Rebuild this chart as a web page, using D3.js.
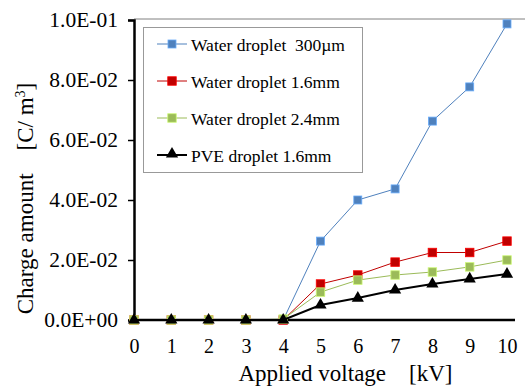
<!DOCTYPE html>
<html>
<head>
<meta charset="utf-8">
<script src="https://cdn.jsdelivr.net/npm/d3@7"></script>
</head>
<body style="margin:0; background:#fff">
<svg width="525" height="387"></svg>
<script>
// Data
const voltages = [0, 1, 2, 3, 4, 5, 6, 7, 8, 9, 10];
const water300um = [0, 0, 0, 0, 0, 0.0263, 0.0400, 0.0437, 0.0663, 0.0777, 0.0987];
const water16mm = [0, 0, 0, 0, 0, 0.0120, 0.0150, 0.0193, 0.0225, 0.0225, 0.0263];
const water24mm = [0, 0, 0, 0, 0.0003, 0.0093, 0.0133, 0.0150, 0.0160, 0.0177, 0.0200];
const pve16mm = [0, 0, 0, 0, 0, 0.0050, 0.0073, 0.0100, 0.0120, 0.0137, 0.0153];
const yTicks = [0, 0.02, 0.04, 0.06, 0.08, 0.10];
const yTickLabels = ["0.0E+00", "2.0E-02", "4.0E-02", "6.0E-02", "8.0E-02", "1.0E-01"];

const FONT = "Liberation Serif";

const series = [
    { name: "Water droplet\u00a0 300\u00b5m", values: water300um, color: "#4F81BD", marker: "square", size: 8, width: 1 },
    { name: "Water droplet 1.6mm", values: water16mm, color: "#C00000", marker: "square", size: 8.5, width: 1 },
    { name: "Water droplet 2.4mm", values: water24mm, color: "#9BBB59", marker: "square", size: 8.5, width: 1 },
    { name: "PVE droplet 1.6mm", values: pve16mm, color: "#000000", marker: "triangle", size: 12, width: 2 }
];

const svg = d3.select("svg");
const margin = { top: 20, right: 18, bottom: 67, left: 134 };
const width = 525, height = 387;

const x = d3.scaleLinear().domain([0, 10]).range([margin.left, width - margin.right]);
const y = d3.scaleLinear().domain([0, 0.1]).range([height - margin.bottom, margin.top]);

// top border line of plot area
svg.append("line")
    .attr("x1", margin.left).attr("x2", width)
    .attr("y1", y(0.1) - 1).attr("y2", y(0.1) - 1)
    .attr("stroke", "#808080").attr("stroke-width", 1);

// Y axis
const yAxis = svg.append("g")
    .attr("transform", `translate(${margin.left},0)`)
    .call(d3.axisLeft(y).tickValues(yTicks).tickSize(6).tickPadding(10)
        .tickFormat((d, i) => yTickLabels[i]));
yAxis.attr("font-family", FONT).attr("font-size", 21.5);
yAxis.select(".domain").attr("stroke", "#000").attr("stroke-width", 2.5);
yAxis.selectAll(".tick line").attr("stroke", "#000").attr("stroke-width", 1.5);
yAxis.selectAll("text").attr("fill", "#000").attr("font-family", FONT).attr("dy", "0.3em");

// X axis
const xAxis = svg.append("g")
    .attr("transform", `translate(0,${y(0)})`)
    .call(d3.axisBottom(x).tickValues(voltages).tickSize(0).tickPadding(19).tickFormat(d3.format("d")));
xAxis.attr("font-family", FONT).attr("font-size", 20);
xAxis.select(".domain").remove();
xAxis.selectAll("text").attr("fill", "#000").attr("font-family", FONT);
svg.append("line")
    .attr("x1", margin.left).attr("x2", width - 10)
    .attr("y1", y(0)).attr("y2", y(0))
    .attr("stroke", "#000").attr("stroke-width", 2.5);

const line = d3.line().x((d, i) => x(voltages[i])).y(d => y(d));
const triangle = d3.symbol().type(d3.symbolTriangle);

function drawMarker(g, s, cx, cy) {
    if (s.marker === "square") {
        g.append("rect")
            .attr("x", cx - s.size / 2).attr("y", cy - s.size / 2)
            .attr("width", s.size).attr("height", s.size)
            .attr("fill", s.color)
            .attr("stroke", d3.color(s.color).brighter(0.8)).attr("stroke-width", 0.8);
    } else {
        g.append("path")
            .attr("d", triangle.size(s.size * s.size * 0.45)())
            .attr("transform", `translate(${cx},${cy})`)
            .attr("fill", s.color);
    }
}

// draw series, blue on bottom, black last
series.forEach(s => {
    const g = svg.append("g");
    g.append("path")
        .datum(s.values)
        .attr("d", line)
        .attr("fill", "none")
        .attr("stroke", s.color)
        .attr("stroke-width", s.width);
    s.values.forEach((v, i) => drawMarker(g, s, x(voltages[i]), y(v)));
});

// Legend
const legend = svg.append("g");
legend.append("rect")
    .attr("x", 143.5).attr("y", 27.5).attr("width", 219).attr("height", 145)
    .attr("fill", "#fff").attr("stroke", "#999").attr("stroke-width", 1);
series.forEach((s, i) => {
    const ly = 44 + i * 37;
    legend.append("line")
        .attr("x1", 157).attr("x2", 187).attr("y1", ly).attr("y2", ly)
        .attr("stroke", s.color).attr("stroke-width", s.width);
    drawMarker(legend, s, 172, s.marker === "triangle" ? ly - 1 : ly);
    legend.append("text")
        .attr("x", 191).attr("y", ly + 7)
        .attr("font-family", FONT)
        .attr("font-size", 17.5)
        .text(s.name);
});

// Axis titles
svg.append("text")
    .attr("x", 345.5).attr("y", 381)
    .attr("text-anchor", "middle")
    .attr("font-family", FONT)
    .attr("font-size", 23)
    .text("Applied voltage \u00a0 \u00a0[kV]");

const yTitle = svg.append("text")
    .attr("transform", "rotate(-90)")
    .attr("x", -198.5).attr("y", 33)
    .attr("text-anchor", "middle")
    .attr("font-family", FONT)
    .attr("font-size", 23);
yTitle.append("tspan").text("Charge amount \u00a0 \u00a0[C/ m");
yTitle.append("tspan").attr("dy", -8).attr("font-size", 14).text("3");
yTitle.append("tspan").attr("dy", 8).text("]");
</script>
</body>
</html>
